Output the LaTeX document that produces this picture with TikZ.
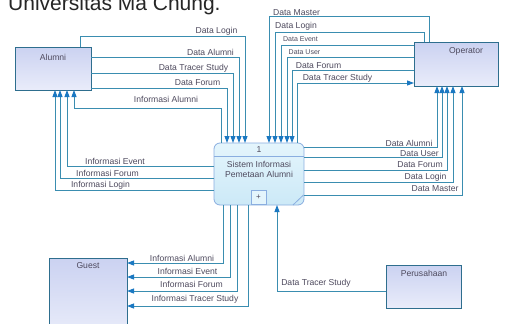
\documentclass[tikz,border=0pt]{standalone}
\usepackage{fontspec}
\setmainfont{Liberation Sans}
\usetikzlibrary{arrows.meta}
\definecolor{flowc}{HTML}{3A8DB0}
\definecolor{tipc}{HTML}{1A78C2}
\definecolor{entbd}{HTML}{2E6E8E}
\definecolor{enttop}{HTML}{CBD2F1}
\definecolor{entbot}{HTML}{E9ECFA}
\definecolor{procbd}{HTML}{8AAEE0}
\definecolor{proctop}{HTML}{E4F5FC}
\definecolor{procbot}{HTML}{CCE9F7}
\definecolor{txt}{HTML}{4E4A5E}
\begin{document}
\begin{tikzpicture}[x=1pt,y=-1pt,
  flow/.style={draw=flowc, line width=0.9pt, -{Triangle[length=7pt,width=5pt,color=tipc]}},
  ent/.style={draw=entbd, line width=0.8pt, top color=enttop, bottom color=entbot, inner sep=0pt, outer sep=0pt},
  procbox/.style={draw=procbd, line width=0.8pt, top color=proctop, bottom color=procbot, rounded corners=6pt, inner sep=0pt, outer sep=0pt},
  lab/.style={font=\fontsize{8.6}{10}\selectfont, text=txt, inner sep=0pt},
  smalllab/.style={font=\fontsize{7}{8}\selectfont, text=txt, inner sep=0pt},
  boxlab/.style={font=\fontsize{8.6}{10}\selectfont, text=txt, inner sep=0pt}]
\useasboundingbox (0,0) rectangle (509,324);
\clip (0,0) rectangle (509,324);
\fill[white] (0,0) rectangle (509,324);

% title (cut at top, as in the reference)
\node[anchor=base west, font=\fontsize{21}{25}\selectfont, text=black!85, inner sep=0pt] (title) at (8,10) {Universitas Ma Chung.};

% entities and process
\node[ent, minimum width=76pt, minimum height=43pt] (alumni) at (53,68.5) {};
\node[ent, minimum width=84pt, minimum height=44pt] (operator) at (456,64) {};
\node[ent, minimum width=78pt, minimum height=77pt] (guest) at (88,296.5) {};
\node[ent, minimum width=75pt, minimum height=43pt] (perusahaan) at (423.5,286.5) {};
\node[procbox, minimum width=90pt, minimum height=62pt] (proc) at (259,174) {};

\node[boxlab] (alumniL) at (53,57) {Alumni};
\node[boxlab] (operatorL) at (466,51) {Operator};
\node[boxlab] (guestL) at (88,266) {Guest};
\node[boxlab] (perusahaanL) at (424,273) {Perusahaan};

\draw[procbd, line width=0.8pt] (proc.west |- 0,156) -- (proc.east |- 0,156);
\node[lab] (procnum) at (259,149.5) {1};
\node[lab, align=center] (procname) at (259,169) {Sistem Informasi\\Pemetaan Alumni};
\node[draw=procbd, line width=0.8pt, fill=proctop, minimum width=15pt, minimum height=14pt, inner sep=0pt, anchor=south, font=\fontsize{8}{9}\selectfont, text=txt] (plusbox) at (proc.south -| 258.5,0) {+};
\draw[procbd, line width=0.8pt] (303.5,195) -- (293,205);

% Alumni -> process
\draw[flow] (alumni.north -| 80,0) |- (245,36) -- (proc.north -| 245,0);
\draw[flow] (alumni.east |- 0,57) -| (proc.north -| 239,0);
\draw[flow] (alumni.east |- 0,73) -| (proc.north -| 233,0);
\draw[flow] (alumni.east |- 0,88) -| (proc.north -| 227,0);
\draw[flow] (proc.north -| 221,0) |- (74,108) -- (alumni.south -| 74,0);

% Operator -> process
\draw[flow] (operator.north -| 429,0) |- (269,16) -- (proc.north -| 269,0);
\draw[flow] (operator.north -| 424,0) |- (275,32) -- (proc.north -| 275,0);
\draw[flow] (operator.west |- 0,45) -| (proc.north -| 281,0);
\draw[flow] (operator.west |- 0,57) -| (proc.north -| 287,0);
\draw[flow] (operator.west |- 0,70) -| (proc.north -| 292,0);
\draw[flow] (proc.north -| 297,0) |- (operator.west |- 0,83);

% process -> Operator
\draw[flow] (proc.east |- 0,147) -| (operator.south -| 437,0);
\draw[flow] (proc.east |- 0,157) -| (operator.south -| 442,0);
\draw[flow] (proc.east |- 0,170) -| (operator.south -| 447,0);
\draw[flow] (proc.east |- 0,182) -| (operator.south -| 453,0);
\draw[flow] (proc.east |- 0,195) -| (operator.south -| 462,0);

% process -> Alumni
\draw[flow] (proc.west |- 0,166) -| (alumni.south -| 67,0);
\draw[flow] (proc.west |- 0,178) -| (alumni.south -| 60,0);
\draw[flow] (proc.west |- 0,190) -| (alumni.south -| 55,0);

% process -> Guest
\draw[flow] (proc.south -| 223,0) |- (guest.east |- 0,263);
\draw[flow] (proc.south -| 230,0) |- (guest.east |- 0,277);
\draw[flow] (proc.south -| 237,0) |- (guest.east |- 0,291);
\draw[flow] (proc.south -| 248,0) |- (guest.east |- 0,306);

% Perusahaan -> process
\draw[flow] (perusahaan.west |- 0,291) -| (proc.south -| 277,0);

% labels
\node[lab] (l1) at (216.5,31) {Data Login};
\node[lab] (l2) at (210.5,52) {Data Alumni};
\node[lab] (l3) at (193.5,68.5) {Data Tracer Study};
\node[lab] (l4) at (197.5,83) {Data Forum};
\node[lab] (l5) at (166,99) {Informasi Alumni};

\node[lab] (l6) at (296.5,12.5) {Data Master};
\node[lab] (l7) at (296,26.5) {Data Login};
\node[smalllab] (l8) at (300.5,39.5) {Data Event};
\node[smalllab] (l9) at (304.5,52.5) {Data User};
\node[lab] (l10) at (318.5,65.5) {Data Forum};
\node[lab] (l11) at (337.5,78.5) {Data Tracer Study};

\node[lab] (l12) at (409,143.5) {Data Alumni};
\node[lab] (l13) at (419.5,153.5) {Data User};
\node[lab] (l14) at (420,165) {Data Forum};
\node[lab] (l15) at (425.5,177.5) {Data Login};
\node[lab] (l16) at (435,189) {Data Master};

\node[lab] (l17) at (115,161.5) {Informasi Event};
\node[lab] (l18) at (107.5,173.5) {Informasi Forum};
\node[lab] (l19) at (100.5,185) {Informasi Login};

\node[lab] (l20) at (182,258) {Informasi Alumni};
\node[lab] (l21) at (187.5,271) {Informasi Event};
\node[lab] (l22) at (191.5,284.5) {Informasi Forum};
\node[lab] (l23) at (195,299.5) {Informasi Tracer Study};

\node[lab] (l24) at (316,283.5) {Data Tracer Study};
\end{tikzpicture}
\end{document}
